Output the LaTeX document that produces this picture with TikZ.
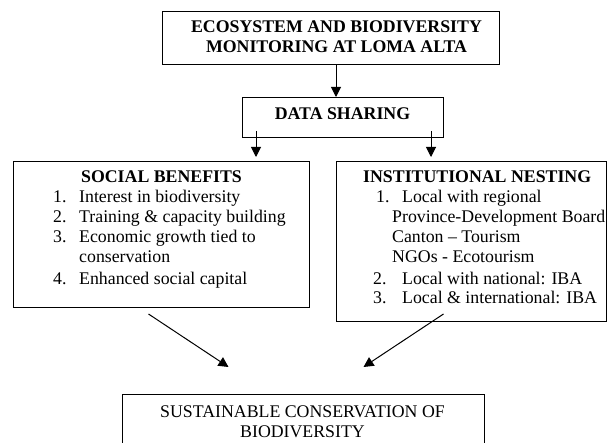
\documentclass[tikz,border=0pt]{standalone}
\usepackage{fontspec}
\setmainfont{Liberation Serif}
\usetikzlibrary{arrows.meta}
\begin{document}
\begin{tikzpicture}[x=1pt,y=-1pt,
  box/.style={draw=black,line width=1pt,inner sep=0pt,anchor=north west},
  txt/.style={inner sep=0pt,font=\fontsize{17.8}{20}\selectfont},
  btxt/.style={txt,font=\fontsize{17.8}{20}\selectfont\bfseries},
  arr/.style={line width=1pt,-{Triangle[length=10pt,width=10pt]}}]
\useasboundingbox (0,0) rectangle (607,443);
\clip (0,0) rectangle (607,443);
% boxes
\node[box,minimum width=337pt,minimum height=53pt] (top) at (162,11) {};
\node[box,minimum width=201pt,minimum height=40pt] (ds) at (242,97) {};
\node[box,minimum width=296pt,minimum height=146pt] (soc) at (13,161) {};
\node[box,minimum width=270pt,minimum height=160pt] (inst) at (336,161) {};
\node[box,minimum width=362pt,minimum height=70pt] (sus) at (122,394) {};
% top text
\node[btxt,anchor=base] (t1) at (336.5,33) {ECOSYSTEM AND BIODIVERSITY};
\node[btxt,anchor=base] (t2) at (336.5,53) {MONITORING AT LOMA ALTA};
\node[btxt,anchor=base] (dst) at (342.5,120) {DATA SHARING};
% social benefits
\node[btxt,anchor=base] (sh) at (161.5,183) {SOCIAL BENEFITS};
\node[txt,anchor=base west] (sn1) at (53,203) {1.};
\node[txt,anchor=base west] (s1) at (79,203) {Interest in biodiversity};
\node[txt,anchor=base west] (sn2) at (53,223) {2.};
\node[txt,anchor=base west] (s2) at (79,223) {Training \& capacity building};
\node[txt,anchor=base west] (sn3) at (53,243) {3.};
\node[txt,anchor=base west] (s3) at (79,243) {Economic growth tied to};
\node[txt,anchor=base west] (s3b) at (79,263) {conservation};
\node[txt,anchor=base west] (sn4) at (53,284) {4.};
\node[txt,anchor=base west] (s4) at (79,284) {Enhanced social capital};
% institutional nesting
\node[btxt,anchor=base west] (ih) at (363,183) {INSTITUTIONAL NESTING};
\node[txt,anchor=base west] (in1) at (376,203) {1.};
\node[txt,anchor=base west] (i1) at (402,203) {Local with regional};
\node[txt,anchor=base west] (i1a) at (392,223) {Province-Development Board};
\node[txt,anchor=base west] (i1b) at (392,243) {Canton – Tourism};
\node[txt,anchor=base west] (i1c) at (392,263) {NGOs - Ecotourism};
\node[txt,anchor=base west] (in2) at (373,284) {2.};
\node[txt,anchor=base west] (i2) at (402,284) {Local with national: IBA};
\node[txt,anchor=base west] (in3) at (373,303) {3.};
\node[txt,anchor=base west] (i3) at (402,303) {Local \& international: IBA};
% bottom text
\node[txt,anchor=base] (b1) at (302.5,417) {SUSTAINABLE CONSERVATION OF};
\node[txt,anchor=base] (b2) at (302.5,437) {BIODIVERSITY};
% connectors
\draw[arr] (top.south -| 336,0) -- (ds.north -| 336,0);
\draw[arr] ([yshift=7pt]ds.south -| 256,0) -- ([yshift=4pt]soc.north -| 256,0);
\draw[arr] ([yshift=7pt]ds.south -| 431,0) -- ([yshift=4pt]inst.north -| 431,0);
\draw[arr] ([shift={(-13,6)}]soc.south) -- ([shift={(-75,-27)}]sus.north);
\draw[arr] ([shift={(-28,-8)}]inst.south) -- ([shift={(60,-27)}]sus.north);
\end{tikzpicture}
\end{document}
